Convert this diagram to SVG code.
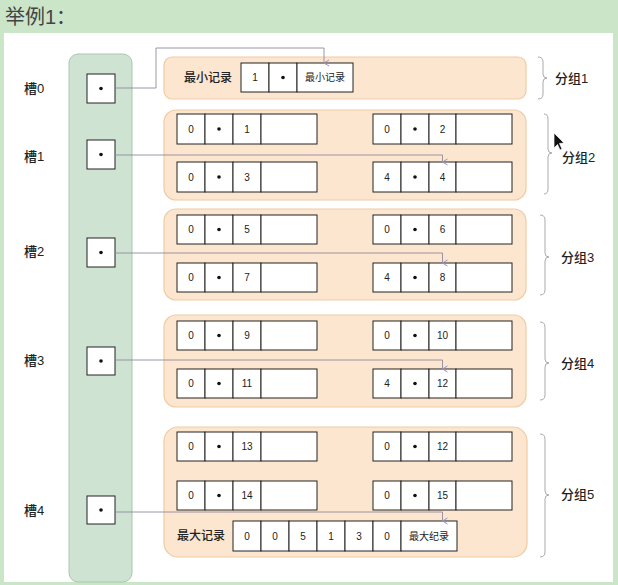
<svg xmlns="http://www.w3.org/2000/svg" width="618" height="585" viewBox="0 0 618 585">
<defs>
<style>
.t{font-family:"Liberation Sans","Noto Sans CJK SC",sans-serif;fill:#222;}
.cell{fill:#fff;stroke:#222;stroke-width:1;}
.cv{font-size:10px;text-anchor:middle;}
.grp{fill:#fde6cf;stroke:#f0cba3;stroke-width:1.2;}
.br{fill:none;stroke:#aaa;stroke-width:1;}
.con{fill:none;stroke:#8e8a9c;stroke-width:0.9;}
.lbl{font-size:13px;font-weight:500;}
</style>
<marker id="ar" markerWidth="8" markerHeight="8" refX="4" refY="6" orient="auto" markerUnits="userSpaceOnUse">
<path d="M1,1 L4,6 L7,1" fill="none" stroke="#9a8fc0" stroke-width="1"/>
</marker>
</defs>
<rect x="0" y="0" width="618" height="585" fill="#cbe5c9"/>
<rect x="4" y="33" width="609" height="549" fill="#ffffff"/>
<text class="t" x="5" y="24" style="font-size:20px;fill:#444">举例1：</text>

<g id="slots-column">
<rect x="69" y="54" width="63" height="528" rx="9" fill="#cfe3d3" stroke="#a9c7b0" stroke-width="1"/>
</g>

<g id="slot0"><text class="t lbl" x="24" y="93">槽0</text><rect class="cell" x="87" y="74" width="28" height="29"/><circle cx="101" cy="88.5" r="1.8" fill="#111"/></g>
<g id="slot1"><text class="t lbl" x="24" y="161">槽1</text><rect class="cell" x="87" y="140" width="28" height="29"/><circle cx="101" cy="154.5" r="1.8" fill="#111"/></g>
<g id="slot2"><text class="t lbl" x="24" y="256">槽2</text><rect class="cell" x="87" y="238" width="28" height="29"/><circle cx="101" cy="252.5" r="1.8" fill="#111"/></g>
<g id="slot3"><text class="t lbl" x="24" y="365">槽3</text><rect class="cell" x="87" y="347" width="28" height="28"/><circle cx="101" cy="361" r="1.8" fill="#111"/></g>
<g id="slot4"><text class="t lbl" x="24" y="515">槽4</text><rect class="cell" x="87" y="496" width="28" height="28"/><circle cx="101" cy="510" r="1.8" fill="#111"/></g>

<g id="group1">
<rect class="grp" x="164" y="57" width="362" height="42" rx="8"/>
<text class="t" x="184" y="82" style="font-size:12px;font-weight:500">最小记录</text>
<rect class="cell" x="241" y="63" width="28" height="29"/><text class="t cv" x="255" y="81">1</text>
<rect class="cell" x="269" y="63" width="28" height="29"/><circle cx="283" cy="77.5" r="1.8" fill="#111"/>
<rect class="cell" x="297" y="63" width="56" height="29"/><text class="t cv" x="325" y="81" style="font-size:10px">最小记录</text>
<path class="br" d="M538,57 Q543,57 543,62 L543,74 Q543,78 547,78 Q543,78 543,82 L543,94 Q543,99 538,99"/>
<text class="t lbl" x="555" y="83">分组1</text>
</g>

<g id="group2">
<rect class="grp" x="164" y="110" width="362" height="90" rx="12"/>
<rect class="cell" x="177" y="114" width="28" height="30"/><text class="t cv" x="191" y="133">0</text>
<rect class="cell" x="205" y="114" width="28" height="30"/><circle cx="219" cy="129" r="1.8" fill="#111"/>
<rect class="cell" x="233" y="114" width="28" height="30"/><text class="t cv" x="247" y="133">1</text>
<rect class="cell" x="261" y="114" width="56" height="30"/>
<rect class="cell" x="177" y="162" width="28" height="30"/><text class="t cv" x="191" y="181">0</text>
<rect class="cell" x="205" y="162" width="28" height="30"/><circle cx="219" cy="177" r="1.8" fill="#111"/>
<rect class="cell" x="233" y="162" width="28" height="30"/><text class="t cv" x="247" y="181">3</text>
<rect class="cell" x="261" y="162" width="56" height="30"/>
<rect class="cell" x="373" y="114" width="28" height="30"/><text class="t cv" x="387" y="133">0</text>
<rect class="cell" x="401" y="114" width="28" height="30"/><circle cx="415" cy="129" r="1.8" fill="#111"/>
<rect class="cell" x="429" y="114" width="27" height="30"/><text class="t cv" x="442.5" y="133">2</text>
<rect class="cell" x="456" y="114" width="56" height="30"/>
<rect class="cell" x="373" y="162" width="28" height="30"/><text class="t cv" x="387" y="181">4</text>
<rect class="cell" x="401" y="162" width="28" height="30"/><circle cx="415" cy="177" r="1.8" fill="#111"/>
<rect class="cell" x="429" y="162" width="27" height="30"/><text class="t cv" x="442.5" y="181">4</text>
<rect class="cell" x="456" y="162" width="56" height="30"/>
<path class="br" d="M544,114 Q548,114 548,119 L548,149 Q548,153 552,153 Q548,153 548,157 L548,189 Q548,194 544,194"/>
<text class="t lbl" x="562" y="162">分组2</text>
</g>

<g id="group3">
<rect class="grp" x="164" y="209" width="362" height="91" rx="12"/>
<rect class="cell" x="177" y="215" width="28" height="29"/><text class="t cv" x="191" y="233">0</text>
<rect class="cell" x="205" y="215" width="28" height="29"/><circle cx="219" cy="229.5" r="1.8" fill="#111"/>
<rect class="cell" x="233" y="215" width="28" height="29"/><text class="t cv" x="247" y="233">5</text>
<rect class="cell" x="261" y="215" width="56" height="29"/>
<rect class="cell" x="177" y="263" width="28" height="29"/><text class="t cv" x="191" y="281">0</text>
<rect class="cell" x="205" y="263" width="28" height="29"/><circle cx="219" cy="277.5" r="1.8" fill="#111"/>
<rect class="cell" x="233" y="263" width="28" height="29"/><text class="t cv" x="247" y="281">7</text>
<rect class="cell" x="261" y="263" width="56" height="29"/>
<rect class="cell" x="373" y="215" width="28" height="29"/><text class="t cv" x="387" y="233">0</text>
<rect class="cell" x="401" y="215" width="28" height="29"/><circle cx="415" cy="229.5" r="1.8" fill="#111"/>
<rect class="cell" x="429" y="215" width="27" height="29"/><text class="t cv" x="442.5" y="233">6</text>
<rect class="cell" x="456" y="215" width="56" height="29"/>
<rect class="cell" x="373" y="263" width="28" height="29"/><text class="t cv" x="387" y="281">4</text>
<rect class="cell" x="401" y="263" width="28" height="29"/><circle cx="415" cy="277.5" r="1.8" fill="#111"/>
<rect class="cell" x="429" y="263" width="27" height="29"/><text class="t cv" x="442.5" y="281">8</text>
<rect class="cell" x="456" y="263" width="56" height="29"/>
<path class="br" d="M540,215 Q545,215 545,220 L545,253 Q545,257 549,257 Q545,257 545,261 L545,290 Q545,295 540,295"/>
<text class="t lbl" x="561" y="262">分组3</text>
</g>

<g id="group4">
<rect class="grp" x="164" y="315" width="362" height="92" rx="12"/>
<rect class="cell" x="177" y="321" width="28" height="29"/><text class="t cv" x="191" y="339">0</text>
<rect class="cell" x="205" y="321" width="28" height="29"/><circle cx="219" cy="335.5" r="1.8" fill="#111"/>
<rect class="cell" x="233" y="321" width="28" height="29"/><text class="t cv" x="247" y="339">9</text>
<rect class="cell" x="261" y="321" width="56" height="29"/>
<rect class="cell" x="177" y="369" width="28" height="29"/><text class="t cv" x="191" y="387">0</text>
<rect class="cell" x="205" y="369" width="28" height="29"/><circle cx="219" cy="383.5" r="1.8" fill="#111"/>
<rect class="cell" x="233" y="369" width="28" height="29"/><text class="t cv" x="247" y="387">11</text>
<rect class="cell" x="261" y="369" width="56" height="29"/>
<rect class="cell" x="373" y="321" width="28" height="29"/><text class="t cv" x="387" y="339">0</text>
<rect class="cell" x="401" y="321" width="28" height="29"/><circle cx="415" cy="335.5" r="1.8" fill="#111"/>
<rect class="cell" x="429" y="321" width="27" height="29"/><text class="t cv" x="442.5" y="339">10</text>
<rect class="cell" x="456" y="321" width="56" height="29"/>
<rect class="cell" x="373" y="369" width="28" height="29"/><text class="t cv" x="387" y="387">4</text>
<rect class="cell" x="401" y="369" width="28" height="29"/><circle cx="415" cy="383.5" r="1.8" fill="#111"/>
<rect class="cell" x="429" y="369" width="27" height="29"/><text class="t cv" x="442.5" y="387">12</text>
<rect class="cell" x="456" y="369" width="56" height="29"/>
<path class="br" d="M540,322 Q545,322 545,327 L545,359 Q545,363 549,363 Q545,363 545,367 L545,395 Q545,400 540,400"/>
<text class="t lbl" x="561" y="368">分组4</text>
</g>

<g id="group5">
<rect class="grp" x="164" y="427" width="363" height="130" rx="14"/>
<rect class="cell" x="177" y="432" width="28" height="29"/><text class="t cv" x="191" y="450">0</text>
<rect class="cell" x="205" y="432" width="28" height="29"/><circle cx="219" cy="446.5" r="1.8" fill="#111"/>
<rect class="cell" x="233" y="432" width="28" height="29"/><text class="t cv" x="247" y="450">13</text>
<rect class="cell" x="261" y="432" width="56" height="29"/>
<rect class="cell" x="177" y="481" width="28" height="29"/><text class="t cv" x="191" y="499">0</text>
<rect class="cell" x="205" y="481" width="28" height="29"/><circle cx="219" cy="495.5" r="1.8" fill="#111"/>
<rect class="cell" x="233" y="481" width="28" height="29"/><text class="t cv" x="247" y="499">14</text>
<rect class="cell" x="261" y="481" width="56" height="29"/>
<rect class="cell" x="373" y="432" width="28" height="29"/><text class="t cv" x="387" y="450">0</text>
<rect class="cell" x="401" y="432" width="28" height="29"/><circle cx="415" cy="446.5" r="1.8" fill="#111"/>
<rect class="cell" x="429" y="432" width="27" height="29"/><text class="t cv" x="442.5" y="450">12</text>
<rect class="cell" x="456" y="432" width="56" height="29"/>
<rect class="cell" x="373" y="481" width="28" height="29"/><text class="t cv" x="387" y="499">0</text>
<rect class="cell" x="401" y="481" width="28" height="29"/><circle cx="415" cy="495.5" r="1.8" fill="#111"/>
<rect class="cell" x="429" y="481" width="27" height="29"/><text class="t cv" x="442.5" y="499">15</text>
<rect class="cell" x="456" y="481" width="56" height="29"/>
<text class="t" x="177" y="540" style="font-size:12px;font-weight:500">最大记录</text>
<rect class="cell" x="233" y="521" width="28" height="30"/><text class="t cv" x="247" y="540">0</text>
<rect class="cell" x="261" y="521" width="28" height="30"/><text class="t cv" x="275" y="540">0</text>
<rect class="cell" x="289" y="521" width="28" height="30"/><text class="t cv" x="303" y="540">5</text>
<rect class="cell" x="317" y="521" width="28" height="30"/><text class="t cv" x="331" y="540">1</text>
<rect class="cell" x="345" y="521" width="28" height="30"/><text class="t cv" x="359" y="540">3</text>
<rect class="cell" x="373" y="521" width="28" height="30"/><text class="t cv" x="387" y="540">0</text>
<rect class="cell" x="401" y="521" width="56" height="30"/><text class="t cv" x="429" y="540">最大纪录</text>
<path class="br" d="M540,434 Q545,434 545,439 L545,491 Q545,495 549,495 Q545,495 545,499 L545,552 Q545,557 540,557"/>
<text class="t lbl" x="561" y="499">分组5</text>
</g>

<g id="connectors">
<path class="con" d="M115,88 L156,88 L156,48 L324,48 L324,63" marker-end="url(#ar)"/>
<path class="con" d="M115,155 L442.5,155 L442.5,162" marker-end="url(#ar)"/>
<path class="con" d="M115,253 L442.5,253 L442.5,263" marker-end="url(#ar)"/>
<path class="con" d="M115,360 L442.5,360 L442.5,369" marker-end="url(#ar)"/>
<path class="con" d="M115,512 L442.5,512 L442.5,521" marker-end="url(#ar)"/>
</g>

<g id="cursor">
<path d="M554,133 L554,148 L557.5,144.5 L560,150 L562,149 L559.5,143.5 L564,143 Z" fill="#111" stroke="#fff" stroke-width="0.7"/>
</g>
</svg>
